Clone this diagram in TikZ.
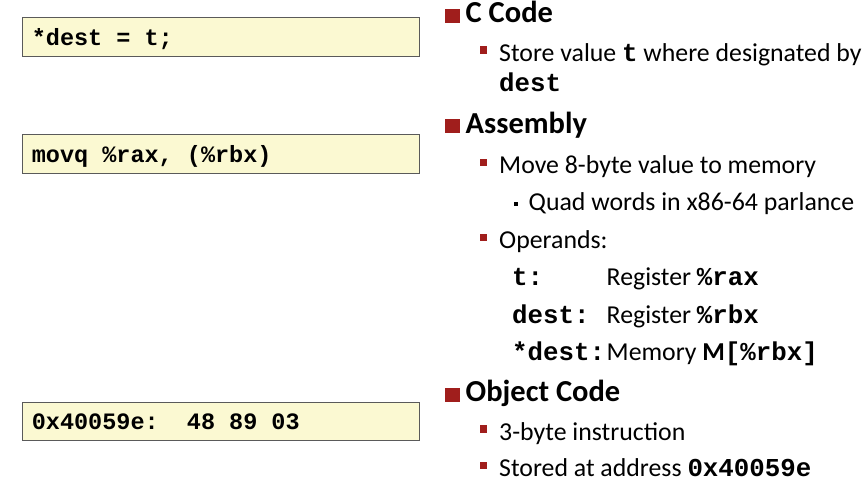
\documentclass[tikz,border=0pt]{standalone}
\usepackage{fontspec}
\setmainfont{Carlito}
\setmonofont{Liberation Mono}
\usetikzlibrary{positioning}
\definecolor{boxyellow}{RGB}{251,249,210}
\definecolor{boxgray}{RGB}{90,90,90}
\definecolor{bulletred}{RGB}{160,30,28}
\newcommand{\inlinecode}[1]{{\ttfamily\bfseries #1}}
\newcommand{\codespace}{\hspace*{14.1pt}}
\tikzset{
codebox/.style={draw=boxgray, line width=1pt, fill=boxyellow, anchor=north west, text width=379pt, inner xsep=9pt, inner ysep=0pt, text height=27.7pt, text depth=11pt, align=left, font=\fontsize{23.5}{28}\selectfont\ttfamily\bfseries}, % the yellow code boxes
head/.style={anchor=base west, inner sep=0pt, font=\fontsize{30.5}{36}\selectfont\bfseries}, % top level items
body/.style={anchor=base west, inner sep=0pt, font=\fontsize{25.8}{31}\selectfont}, % second level items
bigsq/.style={fill=bulletred, inner sep=0pt, minimum width=15pt, minimum height=14pt, anchor=south east},
midsq/.style={fill=bulletred, inner sep=0pt, minimum size=7.5pt, anchor=east},
smallsq/.style={fill=black, inner sep=0pt, minimum size=4.5pt, anchor=east},
}
\begin{document}
\begin{tikzpicture}[x=1pt, y=-1pt]
    \useasboundingbox (0,0) rectangle (868,485);
    % Code boxes
    \node[codebox] (cbox) at (22.3,17.3) {*dest\codespace=\codespace t;};
    \node[codebox] (abox) at (22.3,134) {movq\codespace\%rax,\codespace(\%rbx)};
    \node[codebox] (obox) at (22.3,401.7) {0x40059e:\codespace\codespace48\codespace89\codespace03};

    % C Code
    \node[head] (ccode) at (465.5,22.7) {C Code};
    \node[bigsq] (ccodesq) at ([xshift=-5pt]ccode.base west) {};
    \node[body] (store) at (499,61) {Store value \inlinecode{t} where designated by};
    \node[midsq] (storesq) at ([xshift=-11.5pt, yshift=11pt]store.base west) {};
    \node[body] (dest) at (499,91.7) {\inlinecode{dest}};

    % Assembly
    \node[head] (asm) at (465.5,133.3) {Assembly};
    \node[bigsq] (asmsq) at ([xshift=-5pt]asm.base west) {};
    \node[body] (move) at (499,173.3) {Move 8-byte value to memory};
    \node[midsq] (movesq) at ([xshift=-11.5pt, yshift=11pt]move.base west) {};
    \node[body] (quad) at (528.5,210) {Quad words in x86-64 parlance};
    \node[smallsq] (quadsq) at ([xshift=-10pt, yshift=6pt]quad.base west) {};
    \node[body] (oper) at (499,248.3) {Operands:};
    \node[midsq] (opersq) at ([xshift=-11.5pt, yshift=11pt]oper.base west) {};
    \node[body] (opt) at (512,285) {\inlinecode{t:}};
    \node[body] (regrax) at (606.5,285) {Register \inlinecode{\%rax}};
    \node[body] (opdest) at (512,323.3) {\inlinecode{dest:}};
    \node[body] (regrbx) at (606.5,323.3) {Register \inlinecode{\%rbx}};
    \node[body] (opsdest) at (512,360) {\inlinecode{*dest:}};
    \node[body] (memrbx) at (606.5,360) {Memory {\bfseries M}\inlinecode{[\%rbx]}};

    % Object Code
    \node[head] (obj) at (465.5,401.7) {Object Code};
    \node[bigsq] (objsq) at ([xshift=-5pt]obj.base west) {};
    \node[body] (threeb) at (499,440) {3-byte instruction};
    \node[midsq] (threebsq) at ([xshift=-11.5pt, yshift=11pt]threeb.base west) {};
    \node[body] (addr) at (499,476.7) {Stored at address \inlinecode{0x40059e}};
    \node[midsq] (addrsq) at ([xshift=-11.5pt, yshift=11pt]addr.base west) {};
\end{tikzpicture}
\end{document}
